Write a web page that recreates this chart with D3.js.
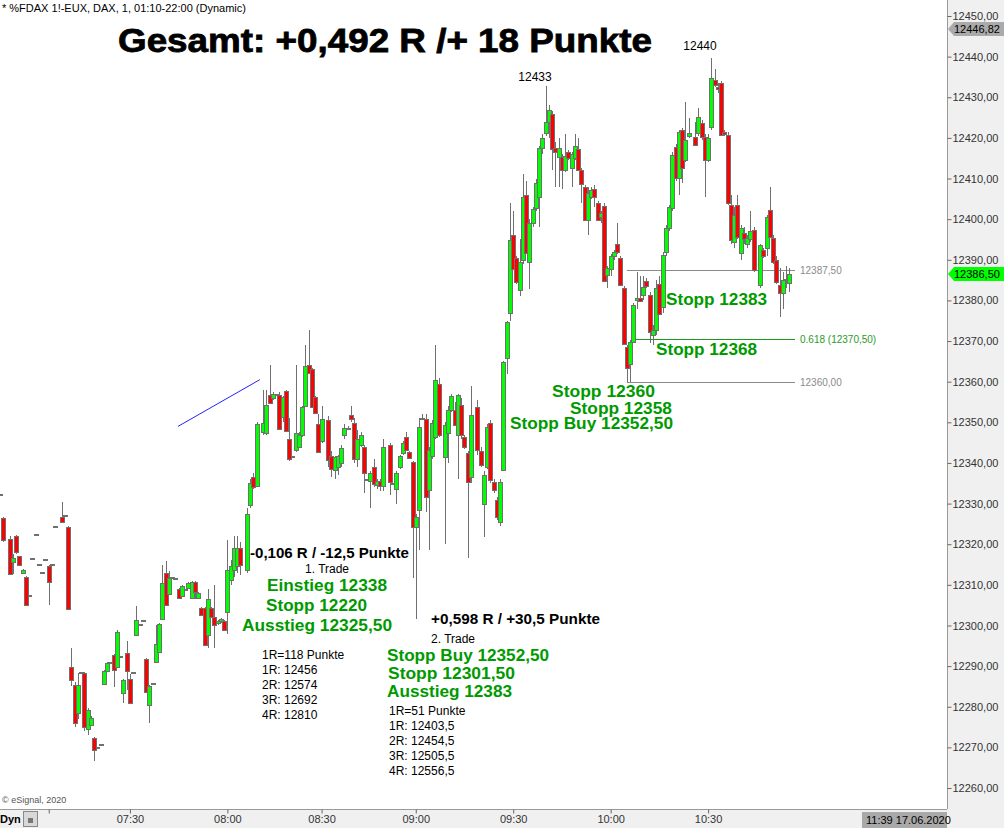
<!DOCTYPE html>
<html><head><meta charset="utf-8">
<script src="https://cdn.jsdelivr.net/npm/d3@7"></script>
<style>body{margin:0;background:#fff}svg{display:block}text{font-family:"Liberation Sans",Arial,sans-serif}</style>
</head><body><svg id="c" width="1004" height="828"></svg>
<script>
// ---------- DATA ----------
const headerText = "* %FDAX 1!-EUX, DAX, 1, 01:10-22:00 (Dynamic)";
const titleText = "Gesamt: +0,492 R /+ 18 Punkte";
// one-minute candles [open, high, low, close], null = no bar
const candles = [
[12332,12332,12332,12332],[12326.4,12326.8,12320.6,12321],null,[12321.3,12322,12312.5,12312.7],
[12315.5,12317.6,12312.6,12316.5],[12322,12322.3,12317.6,12318],[12317,12317.2,12314.8,12315],[12313,12313.8,12312.8,12313.6],
[12312,12312.2,12304.8,12305],[12307.3,12307.3,12307.3,12307.3],[12316.4,12316.4,12316.4,12316.4],[12322.3,12322.3,12322.3,12322.3],
[12315,12315,12315,12315],[12313,12313,12313,12313],[12316,12316,12316,12316],[12314.6,12315,12305,12310.7],
[12315,12315,12315,12315],[12324.2,12324.2,12324.2,12324.2],null,[12326.7,12330.4,12325.3,12325.5],
[12327,12327,12327,12327],[12324.2,12324.5,12303.8,12304],[12289.8,12294.4,12285,12286.6],[12285.3,12286,12275,12276],
[12278.4,12288.3,12277,12285.3],[12288.3,12288.3,12288.3,12288.3],[12288.3,12288.6,12274,12275],[12274.5,12279.6,12273,12279.2],
[12275.5,12277.6,12275.2,12277.3],[12272.3,12272.5,12266.6,12269.4],[12269.8,12269.8,12269.8,12269.8],[12270.6,12270.6,12270.6,12270.6],
[12285.6,12289,12285.3,12288.8],[12288.8,12291,12288.5,12290.8],[12290.8,12290.8,12290.8,12290.8],[12292.7,12293,12284.8,12289],
[12289.8,12299,12289.5,12298.4],[12292.2,12292.2,12292.2,12292.2],[12283.3,12286.9,12281,12286.6],[12293.2,12296.2,12284,12288.8],
[12286.8,12288,12280.8,12281],[12288.3,12288.3,12288.3,12288.3],[12297.6,12304.8,12297.3,12301.3],[12300,12300,12300,12300],
[12301,12301,12301,12301],[12291.7,12292,12283.3,12283.6],[12280.4,12285.3,12276,12285],[12285.6,12285.6,12285.6,12285.6],
[12291,12300,12290.7,12295.4],[12293.5,12300.6,12293.2,12300.3],[12301.6,12315,12301.3,12310.5],[12313,12315.9,12304.7,12305],
[12307.7,12313.5,12307.4,12311.7],[12311.7,12311.7,12311.7,12311.7],[12311.4,12311.4,12311.4,12311.4],[12309,12309.3,12306.5,12306.8],
[12307.2,12310,12307,12309.7],[12308.7,12308.7,12308.7,12308.7],[12309.2,12310.8,12309,12310.5],[12306.8,12311,12306.5,12310.8],
[12310.8,12311,12306.5,12308.3],[12306.8,12308.3,12306.5,12308],[12304.3,12304.6,12302.3,12302.6],[12304.3,12304.6,12295,12295.2],
[12297.6,12309,12294.5,12306.5],[12304.3,12304.6,12301.8,12302.1],[12302.1,12310,12294.5,12300],[12300.5,12301.3,12300.2,12301],
[12301,12301.8,12300.7,12301.5],[12301,12301.3,12298.7,12299],[12303.3,12321,12298,12313.6],[12311.1,12316,12310,12314.6],
[12313.6,12322,12312,12319],[12314.6,12322,12313,12319],[12319,12320.5,12312.5,12314.8],null,
[12313.7,12329,12313,12327.4],[12329.6,12336,12329,12335],[12336.5,12337.5,12333.5,12334],[12334.3,12350,12334,12349.5],
null,[12347.6,12358,12347,12349.8],[12347.4,12358,12347,12354.3],[12356.7,12364,12354.5,12354.7],
[12356,12357.5,12355.5,12357],[12356.7,12356.7,12356.7,12356.7],[12356.7,12357.5,12348,12348.4],[12351.3,12356.5,12350,12356.2],
[12357.7,12358,12347.5,12347.9],[12345.9,12351,12340.5,12341],[12341.5,12341.5,12341.5,12341.5],[12343.2,12364,12342.8,12347.4],
[12344,12347.6,12343.7,12347],[12346.9,12354,12346.5,12353.8],[12354,12369,12353.8,12363.9],[12364.1,12372.7,12361.8,12362.1],
[12363,12363.3,12353.5,12353.8],[12356.2,12356.5,12352,12352.3],[12349.6,12352,12342.4,12342.7],[12345.4,12354,12345,12350.8],
null,[12350.6,12351.5,12339,12340.8],[12341.7,12343,12336.5,12338.5],[12338.2,12341.8,12336,12341.5],
[12339,12342,12337,12341.7],[12340,12344.5,12339,12343.7],[12346.9,12349.5,12346,12348.6],[12348.3,12349,12348,12348.6],
[12351.8,12354,12350,12350.8],[12349.8,12351,12340,12341],[12341,12348,12339,12346],[12344.4,12347.5,12344,12346.9],
[12344,12344.5,12332.6,12337.5],[12335.8,12335.8,12335.8,12335.8],[12335.5,12338,12329,12337.5],[12339,12341,12334,12334.8],
[12334.5,12336,12333.5,12335.5],[12335.5,12336,12333,12334.3],[12334.3,12346,12333,12343.9],null,
[12344.4,12345,12332,12335.3],[12334.8,12334.8,12334.8,12334.8],[12333.6,12338,12330,12337.5],[12338.9,12342,12338.5,12341.7],
[12342.4,12345.5,12342,12344.9],[12346.4,12347.5,12343,12343.2],[12342.7,12343,12341,12341.2],[12340.2,12340.5,12311.7,12324.2],
[12324.2,12327.5,12301.5,12326.7],[12328.4,12351,12318.6,12348.9],[12350.8,12352,12350.5,12351],[12350.8,12352,12328,12331.6],
[12333.3,12344,12318.6,12343.2],[12341.7,12350.5,12341,12349.8],[12346.4,12369,12346,12360.5],[12359.5,12361,12346.5,12346.9],
null,[12341.5,12350,12320,12349.3],[12347.4,12354,12340,12353],[12353,12357,12352.5,12356.5],
[12353,12355,12349,12349.3],[12346.9,12357,12336,12356.7],[12354.3,12356,12346,12346.9],[12346.4,12347,12343.5,12344],
[12342.4,12343,12316.6,12335.3],[12336.5,12359,12335,12351.8],null,[12353.8,12355.5,12342,12343.2],
[12343,12344,12339,12339.5],[12330,12338,12321.7,12337],[12339,12349.5,12338.5,12348.9],[12349.8,12350.5,12335,12335.8],
[12335.3,12336,12332.5,12333.3],[12331,12331.5,12326,12326.7],[12325.5,12336,12324.5,12335.3],[12338.3,12365,12338,12364.8],
[12365.8,12375,12362,12374.7],[12376.9,12404,12375,12394.9],[12396,12402,12387.5,12387.7],[12390.4,12391,12384,12384.5],
[12382.6,12395,12381,12389.4],[12390,12411,12389,12405.5],[12406,12409.5,12391.5,12391.7],[12389.5,12400,12382.8,12399],
[12399,12403,12398,12402.5],[12402.7,12410,12402,12408.9],[12405.5,12418,12398,12417.5],[12417.5,12421,12416,12420],
[12421.2,12432.8,12420.5,12424],[12424,12428,12420,12426.9],[12425.9,12426.5,12412,12417.3],[12417.5,12419,12408,12416.5],
[12415.3,12420,12408,12417.5],[12415.3,12416,12407.5,12412.1],[12412,12421,12411.5,12415.5],[12416.5,12417,12414.5,12415],
[12412.5,12416.5,12408,12416],[12415,12421,12414.5,12418],[12417.3,12420,12412,12412.1],[12412,12412.5,12404,12408.6],
[12408,12408.5,12399.5,12399.8],[12399.8,12408,12396,12406.4],[12405.5,12408,12405,12407.2],[12407.4,12408.5,12403,12405.5],
[12404,12404.5,12399.5,12399.8],[12400.5,12402,12399,12401.4],[12403.2,12404,12384.5,12384.8],[12386.3,12388.5,12383,12388],
[12387.7,12391.5,12386,12391],[12391,12392.5,12390,12392],[12393.9,12399,12391.5,12391.9],[12390.4,12391,12383.5,12383.8],
[12383,12383.5,12369,12369.3],[12368.5,12369,12360,12363.4],[12364.4,12370.3,12360,12369.8],[12369.8,12379.3,12369.5,12378.9],
[12380,12387,12378,12380.5],[12380.5,12386,12379.5,12379.8],[12381.3,12386,12380,12383.3],[12384.8,12385.5,12383,12383.5],
[12381.3,12382,12369.5,12372.3],[12371.5,12374,12369,12372.7],[12372.7,12385,12371.5,12383],[12384,12386,12376.5,12376.7],
[12378.4,12392,12377,12391.2],[12392,12398.5,12391,12397.8],[12397.8,12403.5,12397,12403],[12402.7,12416.5,12402,12415.8],
[12417.8,12418.5,12409.5,12410.1],[12410.1,12422,12406,12421.5],[12422,12422.5,12409,12412.6],[12414.6,12428.8,12414,12419.5],
[12420.5,12425,12420,12421.2],null,[12420.2,12424,12418,12418.3],[12421.2,12427.4,12420.5,12425.1],
[12423.7,12424.5,12419.5,12420.2],[12420.2,12421,12405.5,12414.6],[12414.6,12421,12414,12420],[12422.7,12439.7,12422,12434.7],
[12434.2,12437,12432.5,12433],[12432.5,12433.5,12431,12432],[12433.5,12434,12420.5,12420.7],[12421.5,12422,12420.5,12421],
[12420.7,12421.5,12403.5,12404],[12403.5,12406,12394,12394.9],[12394.5,12403,12393,12401],[12403.5,12406,12395,12395.6],
[12391.7,12398.5,12390,12397.8],[12396.5,12398,12394,12395],[12394,12396,12393,12395.4],[12395,12402,12394.5,12397],
[12397.3,12398,12387,12387.5],null,[12383.8,12394,12383,12393.6],[12392.3,12393,12390.5,12391],
[12392.9,12401,12391,12400.5],[12402.2,12407.9,12395.3,12395.6],[12395.4,12396,12389,12389.4],[12390,12391,12384,12384.5],
[12383.8,12388,12376,12381.8],[12381.8,12387,12378,12385],[12385,12388.5,12383,12385.3],[12384.3,12388,12382,12386.5]
];
const priceTicks = [12260,12270,12280,12290,12300,12310,12320,12330,12340,12350,12360,12370,12380,12390,12400,12410,12420,12430,12440,12450];
const timeTickIndex = [15, 40, 70, 99, 128, 158, 188, 218];
const timeTickLabels = ["", "07:30", "08:00", "08:30", "09:00", "09:30", "10:00", "10:30"];
const markerPrice = 12446.82, lastPrice = 12386.5;
const levelValues = [12387.5, 12370.5, 12360];
const levelLabels = ["12387,50", "0.618 (12370,50)", "12360,00"];
const peakPrices = [12433, 12440];
const stopNotes = ["Stopp 12383", "Stopp 12368", "Stopp 12360", "Stopp 12358", "Stopp Buy 12352,50"];
const trade1Head = ["-0,106 R / -12,5 Punkte", "1. Trade"];
const trade1Orders = ["Einstieg 12338", "Stopp 12220", "Ausstieg 12325,50"];
const trade1Targets = ["1R=118 Punkte", "1R: 12456", "2R: 12574", "3R: 12692", "4R: 12810"];
const trade2Head = ["+0,598 R / +30,5 Punkte", "2. Trade"];
const trade2Orders = ["Stopp Buy 12352,50", "Stopp 12301,50", "Ausstieg 12383"];
const trade2Targets = ["1R=51 Punkte", "1R: 12403,5", "2R: 12454,5", "3R: 12505,5", "4R: 12556,5"];

// ---------- DRAW ----------
const svg = d3.select("#c");
const plotR = 947, plotB = 809;
const x = d3.scaleLinear().domain([0, 243]).range([0, 789.3]);
const y = d3.scaleLinear().domain([12260, 12450]).range([788, 16]);
const GREEN = "#009a00", GRAY = "#707070";

svg.append("rect").attr("width",1004).attr("height",828).attr("fill","#fff");
svg.append("rect").attr("x",plotR).attr("y",0).attr("width",1004-plotR).attr("height",828).attr("fill","#f0f0f0");
svg.append("rect").attr("x",0).attr("y",plotB).attr("width",plotR).attr("height",828-plotB).attr("fill","#f0f0f0");
svg.append("defs").append("clipPath").attr("id","clip").append("rect").attr("x",0).attr("y",0).attr("width",plotR).attr("height",plotB);

const plot = svg.append("g").attr("clip-path","url(#clip)");
const fmt = v => d3.format(".2f")(v).replace(".", ",");

// level lines
const levelStyle = [{c:"#8a8a8a", s:193, t:"#8a8a8a"},{c:"#1a9a1a", s:195, t:"#2a9a2a"},{c:"#8a8a8a", s:193, t:"#8a8a8a"}];
levelValues.forEach((v,i)=>{
  const yy = Math.round(y(v))+0.5;
  plot.append("line").attr("x1",x(levelStyle[i].s)).attr("x2",795).attr("y1",yy).attr("y2",yy)
    .attr("stroke",levelStyle[i].c).attr("stroke-width",1);
  plot.append("text").attr("x",800).attr("y",yy+3).text(levelLabels[i]).attr("font-size",10)
    .attr("fill",levelStyle[i].t);
});

// blue trend line
plot.append("line").attr("x1",x(54.8)).attr("y1",y(12349)).attr("x2",x(80)).attr("y2",y(12360.5))
  .attr("stroke","#2323ff").attr("stroke-width",1);

// candles
const cg = plot.append("g");
candles.forEach((d,i)=>{
  if(!d) return;
  const [o,h,l,c] = d;
  const r = Math.round(x(i));
  if(o===c && h===l){
    cg.append("rect").attr("x",r-2).attr("y",Math.round(y(o))-1).attr("width",5).attr("height",2).attr("fill",GRAY);
    return;
  }
  cg.append("line").attr("x1",r+0.5).attr("x2",r+0.5).attr("y1",Math.round(y(h))).attr("y2",Math.round(y(l)))
    .attr("stroke",GRAY).attr("stroke-width",1);
});
candles.forEach((d,i)=>{
  if(!d) return;
  const [o,h,l,c] = d;
  if(o===c && h===l) return;
  const r = Math.round(x(i));
  const top = Math.round(y(Math.max(o,c))), bot = Math.round(y(Math.min(o,c)));
  cg.append("rect").attr("x",r-1.5).attr("y",top+0.5).attr("width",4).attr("height",Math.max(1,bot-top))
    .attr("fill", c>=o ? "#00ff00" : "#ff0000").attr("stroke",GRAY).attr("stroke-width",1);
});

// axes frame
svg.append("line").attr("x1",plotR+0.5).attr("x2",plotR+0.5).attr("y1",0).attr("y2",plotB).attr("stroke","#999");
svg.append("line").attr("x1",0).attr("x2",plotR).attr("y1",plotB+0.5).attr("y2",plotB+0.5).attr("stroke","#999");

// right axis
const yAxis = d3.axisRight(y).tickValues(priceTicks).tickSize(4).tickPadding(1).tickFormat(fmt);
const ya = svg.append("g").attr("transform",`translate(${plotR+0.5},0)`).call(yAxis);
ya.select(".domain").remove();
ya.selectAll("line").attr("stroke","#666");
ya.selectAll("text").attr("font-size",11).attr("fill","#333").attr("font-family","Liberation Sans, Arial, sans-serif");

// bottom axis
const xAxis = d3.axisBottom(x).tickValues(timeTickIndex).tickSize(4).tickPadding(2).tickFormat((d,i)=>timeTickLabels[i]);
const xa = svg.append("g").attr("transform",`translate(0,${plotB+0.5})`).call(xAxis);
xa.select(".domain").remove();
xa.selectAll("line").attr("stroke","#666");
xa.selectAll("text").attr("font-size",11).attr("fill","#333").attr("font-family","Liberation Sans, Arial, sans-serif");

// price markers
function marker(v, bg, label){
  const yy = y(v);
  svg.append("path").attr("d",`M${plotR+1},${yy} L${plotR+7},${yy-7} L1004,${yy-7} L1004,${yy+7} L${plotR+7},${yy+7} Z`).attr("fill",bg);
  svg.append("text").attr("x",plotR+7).attr("y",yy+4).text(label).attr("font-size",11).attr("fill","#000");
}
marker(markerPrice, "#aaaaaa", fmt(markerPrice));
marker(lastPrice, "#00ff00", fmt(lastPrice));

// bottom-left + date box
svg.append("text").attr("x",0).attr("y",823).text("Dyn").attr("font-size",11).attr("font-weight","bold").attr("fill","#000");
svg.append("rect").attr("x",23.5).attr("y",811.5).attr("width",14).attr("height",15).attr("fill","#d8d8d8").attr("stroke","#888");
svg.append("rect").attr("x",28).attr("y",818).attr("width",5).attr("height",5).attr("fill","#777");
svg.append("rect").attr("x",862).attr("y",812).attr("width",85).attr("height",16).attr("fill","#a9a9a9");
svg.append("text").attr("x",866).attr("y",824).text("11:39 17.06.2020").attr("font-size",11).attr("fill","#000");
svg.append("text").attr("x",2).attr("y",803).text("© eSignal, 2020").attr("font-size",9).attr("fill","#555");

// header + title
svg.append("text").attr("x",2).attr("y",12).text(headerText).attr("font-size",11).attr("fill","#000");
svg.append("text").attr("x",118).attr("y",52).text(titleText).attr("font-size",34).attr("font-weight","bold")
  .attr("fill","#000").attr("stroke","#000").attr("stroke-width",0.8)
  .attr("textLength",534).attr("lengthAdjust","spacingAndGlyphs");

// peak labels
svg.append("text").attr("x",535).attr("y",81).attr("text-anchor","middle").text(peakPrices[0]).attr("font-size",12).attr("fill","#000");
svg.append("text").attr("x",700).attr("y",50).attr("text-anchor","middle").text(peakPrices[1]).attr("font-size",12).attr("fill","#000");

function bold(t, xx, yy, w, size, color){
  svg.append("text").attr("x",xx).attr("y",yy).text(t).attr("font-size",size).attr("font-weight","bold")
    .attr("fill",color).attr("textLength",w).attr("lengthAdjust","spacingAndGlyphs");
}
function plain(t, xx, yy){
  svg.append("text").attr("x",xx).attr("y",yy).text(t).attr("font-size",12).attr("fill","#000");
}
// stop notes
const stopPos = [[666,305,101],[656,355,101],[552,397,103],[570,414,102],[510,429,163]];
stopNotes.forEach((t,i)=>bold(t, stopPos[i][0], stopPos[i][1], stopPos[i][2], 16, GREEN));

// trade 1
bold(trade1Head[0], 250, 558, 159, 14, "#000");
plain(trade1Head[1], 305, 573);
const t1Pos = [[267,591,120],[266,611,101],[242,631,150]];
trade1Orders.forEach((t,i)=>bold(t, t1Pos[i][0], t1Pos[i][1], t1Pos[i][2], 16, GREEN));
trade1Targets.forEach((t,i)=>plain(t, 262, 659 + i*15));

// trade 2
bold(trade2Head[0], 431, 624, 169, 14, "#000");
plain(trade2Head[1], 431, 643);
const t2Pos = [[387,661,162],[388,679,127],[387,697,125]];
trade2Orders.forEach((t,i)=>bold(t, t2Pos[i][0], t2Pos[i][1], t2Pos[i][2], 16, GREEN));
trade2Targets.forEach((t,i)=>plain(t, 389, 715 + i*15));
</script></body></html>
